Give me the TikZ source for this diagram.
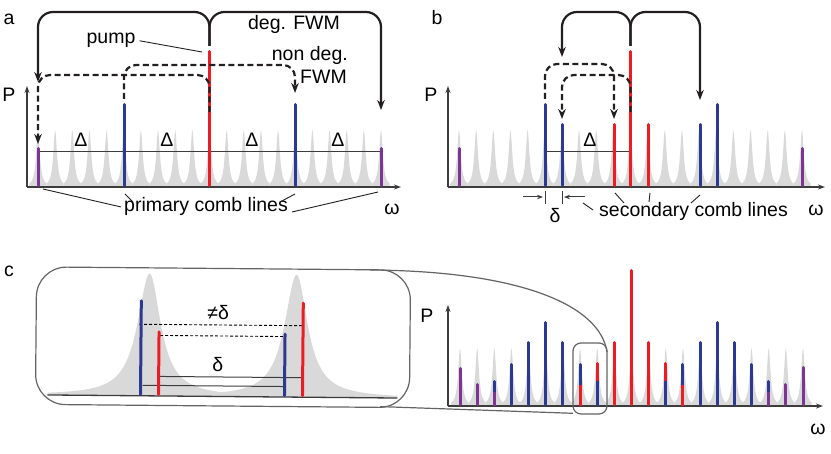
\documentclass[tikz,border=0pt]{standalone}
\usepackage{fontspec}
\setmainfont{Liberation Sans}
\usetikzlibrary{arrows.meta}
\definecolor{combblue}{RGB}{43,57,144}
\definecolor{combred}{RGB}{237,28,36}
\definecolor{combpurple}{RGB}{125,53,145}
\definecolor{combgray}{RGB}{217,217,217}
\definecolor{axisgray}{RGB}{60,60,60}
\definecolor{framegray}{RGB}{100,100,100}
\definecolor{arrowblack}{RGB}{35,31,32}
\tikzset{
  axis/.style={axisgray, line width=1.3pt, -{Stealth[length=7pt,width=5pt]}},
  fwm/.style={arrowblack, line width=2.2pt, rounded corners=15pt, -{Stealth[length=10pt,width=7.5pt]}},
  ndfwm/.style={fwm, rounded corners=12pt, dash pattern=on 6pt off 3.5pt},
  combline/.style={line width=3pt, line cap=round},
  leader/.style={arrowblack, line width=0.9pt},
  spacing/.style={axisgray, line width=1pt},
  frame/.style={framegray, line width=1.2pt},
  lbl/.style={inner sep=0pt, anchor=base, font=\fontsize{19.5}{22}\selectfont},
}
\newcommand{\lorpeak}[5]{\fill[combgray] (#1-#5,#2) -- plot[domain=-#5:#5, samples=31, variable=\t] ({#1+\t},{#2-#3/(1+(\t/#4)^2)}) -- (#1+#5,#2) -- cycle;}

\begin{document}
\begin{tikzpicture}[x=1pt, y=-1pt]
\useasboundingbox (0,0) rectangle (831,454);
% a
\node[lbl] (lbla) at (9,25) {a};
\foreach \k in {0,...,20} {\pgfmathsetmacro\px{38+17.15*\k}\lorpeak{\px}{187}{57}{2.2}{8.575}}
\draw[axis] (27,187) -- (27,86);
\draw[axis] (27,187) -- (401,187);
\draw[spacing] (38,152) -- (381,152);
\foreach \xc/\yt/\cc in {38/147/combpurple,124/103/combblue,209.5/50/combred,295/103/combblue,381/147/combpurple}
  \draw[combline,\cc] (\xc,185.5) -- (\xc,\yt+1.5);
\foreach \xc in {81,167,252,338}
  \node[lbl] (deltaa\xc) at (\xc,147) {Δ};
\draw[fwm] (209.5,46) -- (209.5,12) -- (38,12) -- (38,82);
\draw[fwm] (209.5,46) -- (209.5,12) -- (381,12) -- (381,110);
\draw[ndfwm] (124,99) -- (124,65) -- (295,65) -- (295,93);
\draw[ndfwm] (209.5,112) -- (209.5,75) -- (38,75) -- (38,144);
\node[lbl] (pump) at (111,44) {pump};
\draw[leader] ([xshift=4pt]pump.east) -- (202,52);
\node[lbl] (degfwm) at (294,30) {deg. FWM};
\node[lbl, anchor=base east] (nondeg) at (348,61) {non deg.};
\node[lbl, anchor=base east] (nondegfwm) at (347,83.5) {FWM};
\node[lbl] (primary) at (206,212) {primary comb lines};
\draw[leader] (43,189) -- ([xshift=-3pt]primary.west);
\draw[leader] (125,194) -- (133,202);
\draw[leader] (280,202) -- (295,194);
\draw[leader] ([xshift=4pt]primary.base east) -- (378,192);
\node[lbl] (omegaa) at (392,215) {ω};
\node[lbl] (pa) at (9,102) {P};
% b
\node[lbl] (lblb) at (437,25) {b};
\foreach \k in {0,...,20} {\pgfmathsetmacro\px{459+17.15*\k}\lorpeak{\px}{187}{57}{2.2}{8.575}}
\draw[axis] (448,187) -- (448,86);
\draw[axis] (448,187) -- (825,187);
\draw[spacing] (545,152) -- (630.5,152);
\foreach \xc/\yt/\cc in {459/147/combpurple,545/103/combblue,562/123/combblue,614/123/combred,630.5/50/combred,648/123/combred,700/123/combblue,717/103/combblue,802/147/combpurple}
  \draw[combline,\cc] (\xc,185.5) -- (\xc,\yt+1.5);
\node[lbl] (deltab) at (590,147) {Δ};
\draw[fwm] (630.5,46) -- (630.5,12) -- (562,12) -- (562,57);
\draw[fwm] (630.5,46) -- (630.5,12) -- (700,12) -- (700,100);
\draw[ndfwm] (545,99) -- (545,64) -- (614,64) -- (614,119);
\draw[ndfwm] (630.5,112) -- (630.5,75) -- (562,75) -- (562,119);
\draw[spacing] (545,191) -- (545,204);
\draw[spacing] (562,191) -- (562,204);
\draw[spacing, -{Stealth[length=6pt,width=4.5pt]}] (523,197) -- (543,197);
\draw[spacing, -{Stealth[length=6pt,width=4.5pt]}] (585,197) -- (564,197);
\node[lbl] (smalldelta) at (555,222.5) {δ};
\node[lbl] (secondary) at (693.5,216.5) {secondary comb lines};
\draw[leader] (583,203) -- (593,210);
\draw[leader] (615,193) -- (624,203);
\draw[leader] (650,193) -- (649,202);
\draw[leader] (700,195) -- (691,203);
\node[lbl] (omegab) at (816,216) {ω};
\node[lbl] (pb) at (431,102) {P};
% c
\node[lbl] (lblc) at (9,277) {c};
\foreach \k in {0,...,20} {\pgfmathsetmacro\px{460+17.15*\k}\lorpeak{\px}{406}{58}{2.2}{8.575}}
\draw[axis] (448,406) -- (448,305);
\draw[axis] (448,406) -- (823,406);
\foreach \k/\yt/\cc in {0/367/combpurple,1/383/combpurple,2/380/combblue,3/363/combblue,4/341/combblue,5/321/combblue,6/341/combblue,7/363/combblue,8/362/combred,9/341/combred,10/269/combred,11/341/combred,12/362/combred,13/363/combblue,14/341/combblue,15/321/combblue,16/341/combblue,17/363/combblue,18/380/combblue,19/383/combpurple,20/366/combpurple}
  {\pgfmathsetmacro\px{460+17.15*\k}\draw[combline,\cc] (\px,404.5) -- (\px,\yt+1.5);}
\foreach \k/\yl/\cc in {2/392/combpurple,7/385/combred,8/381/combblue,12/381/combblue,13/385/combred,18/392/combpurple}
  {\pgfmathsetmacro\px{460+17.15*\k}\draw[combline,line cap=butt,\cc] (\px,406) -- (\px,\yl);}
\node[lbl] (pc) at (427,323) {P};
\node[lbl] (omegac) at (818,435) {ω};
\draw[frame, rounded corners=8pt] (573,343) rectangle (607,414);
\begin{scope}[rotate around={-0.5:(223,337)}]
\draw[frame, rounded corners=30pt] (36,268.5) rectangle (410,406);
\fill[combgray] (48,396.5) -- plot[domain=48:222.5, samples=120, variable=\t] (\t,{396.5-122.5/(1+((\t-149)/14)^2)}) -- (222.5,396.5) -- cycle;
\fill[combgray] (222.5,396.5) -- plot[domain=222.5:398, samples=120, variable=\t] (\t,{396.5-122.5/(1+((\t-296)/14)^2)}) -- (398,396.5) -- cycle;
\draw[axisgray, line width=1.3pt] (48,396.5) -- (398,396.5);
\draw[black, line width=0.9pt, dash pattern=on 3pt off 2pt] (139,325) -- (304,325);
\draw[black, line width=0.9pt, dash pattern=on 3pt off 2pt] (160,336) -- (284,336);
\draw[spacing] (160,377) -- (303,377);
\draw[spacing] (143,386) -- (285,386);
\foreach \xc/\yt/\cc in {141/300/combblue,159/331/combred,285/332/combblue,303/301/combred}
  \draw[combline,\cc] (\xc,395) -- (\xc,\yt+1.5);
\node[lbl] (notdelta) at (218,320) {≠δ};
\node[lbl] (insetdelta) at (218,371.5) {δ};
\end{scope}
\draw[frame] (370,270) .. controls (520,271) and (600,305) .. (607,352);
\draw[frame] (380,406.6) -- (573,413.3);
\end{tikzpicture}
\end{document}
